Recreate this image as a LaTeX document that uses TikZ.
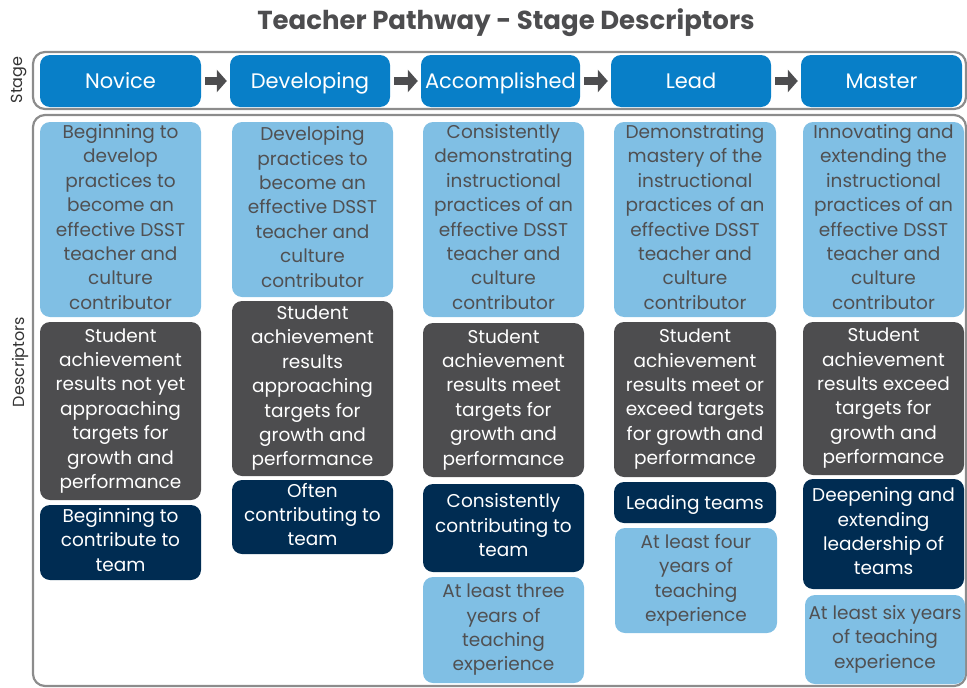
\documentclass[tikz,border=0pt]{standalone}
\usepackage{fontspec}
\setmainfont{Poppins}
\usetikzlibrary{arrows.meta}
\definecolor{stageblue}{RGB}{8,127,200}
\definecolor{lightbl}{RGB}{128,191,228}
\definecolor{darkbox}{RGB}{77,77,79}
\definecolor{navybox}{RGB}{0,44,82}
\definecolor{txtgray}{RGB}{80,80,82}
\definecolor{framegray}{RGB}{140,140,140}
\newcommand\tpbox[7]{%
  \pgfmathsetmacro\tpw{#5-#3}\pgfmathsetmacro\tph{#6-#4}%
  \pgfmathsetmacro\tpx{(#3+#5)/2}\pgfmathsetmacro\tpy{(#4+#6)/2}%
  \node[#2, minimum width=\tpw pt, minimum height=\tph pt] (#1) at (\tpx,\tpy) {#7};}
\newcommand\tpstrut{\rule[-5.3pt]{0pt}{24.4pt}}
\newcommand\tpsstrut{\rule[-5.8pt]{0pt}{26pt}}
\begin{document}
\begin{tikzpicture}[x=1pt,y=-1pt,
  base/.style={rounded corners=10pt, inner sep=0pt, align=center, font=\fontsize{18.5}{24.4}\selectfont,
    execute at begin node=\tpstrut, execute at end node=\tpstrut},
  lb/.style={base, fill=lightbl, text=txtgray},
  dg/.style={base, fill=darkbox, text=white},
  nv/.style={base, fill=navybox, text=white},
  stagebox/.style={rounded corners=10pt, inner sep=0pt, fill=stageblue, text=white, font=\fontsize{21}{26}\selectfont,
    execute at begin node=\tpsstrut},
  framebox/.style={rounded corners=12pt, draw=framegray, line width=2.2pt},
  sidelabel/.style={rotate=90, text=black!80, font=\fontsize{16}{19}\selectfont},
  barrow/.style={draw=darkbox, line width=8pt, -{Triangle[length=10pt,width=22pt]}, shorten <=4pt, shorten >=3pt}
]
\useasboundingbox (0,0) rectangle (967,688);
% title
\node[text=darkbox, font=\fontsize{26}{30}\selectfont\bfseries] (title) at (506,23) {Teacher Pathway - Stage Descriptors};
% frames
\tpbox{stageframe}{framebox}{33}{52}{966}{109}{}
\tpbox{descframe}{framebox}{33}{115}{966}{686}{}
\node[sidelabel] (stagelbl) at (19,80) {Stage};
\node[sidelabel] (desclbl) at (20,362) {Descriptors};
% stages
\tpbox{s1}{stagebox}{40}{55}{201}{107}{Novice}
\tpbox{s2}{stagebox}{230}{55}{390}{107}{Developing}
\tpbox{s3}{stagebox}{421}{55}{580}{107}{Accomplished}
\tpbox{s4}{stagebox}{611}{55}{771}{107}{Lead}
\tpbox{s5}{stagebox}{801}{55}{962}{107}{Master}
\draw[barrow] (s1) -- (s2);
\draw[barrow] (s2) -- (s3);
\draw[barrow] (s3) -- (s4);
\draw[barrow] (s4) -- (s5);
% column 1
\tpbox{a1}{lb}{40}{122}{201}{317}{Beginning to\\develop\\practices to\\become an\\effective DSST\\teacher and\\culture\\contributor}
\tpbox{b1}{dg}{40}{322}{201}{500}{Student\\achievement\\results not yet\\approaching\\targets for\\growth and\\performance}
\tpbox{c1}{nv}{40}{505}{201}{580}{Beginning to\\contribute to\\team}
% column 2
\tpbox{a2}{lb}{232}{122}{393}{297}{Developing\\practices to\\become an\\effective DSST\\teacher and\\culture\\contributor}
\tpbox{b2}{dg}{232}{301}{393}{476}{Student\\achievement\\results\\approaching\\targets for\\growth and\\performance}
\tpbox{c2}{nv}{232}{480}{393}{554}{Often\\contributing to\\team}
% column 3
\tpbox{a3}{lb}{423}{122}{584}{317}{Consistently\\demonstrating\\instructional\\practices of an\\effective DSST\\teacher and\\culture\\contributor}
\tpbox{b3}{dg}{423}{323}{584}{477}{Student\\achievement\\results meet\\targets for\\growth and\\performance}
\tpbox{c3}{nv}{423}{484}{584}{572}{Consistently\\contributing to\\team}
\tpbox{d3}{lb}{423}{577}{584}{683}{At least three\\years of\\teaching\\experience}
% column 4
\tpbox{a4}{lb}{614}{122}{776}{317}{Demonstrating\\mastery of the\\instructional\\practices of an\\effective DSST\\teacher and\\culture\\contributor}
\tpbox{b4}{dg}{614}{322}{776}{477}{Student\\achievement\\results meet or\\exceed targets\\for growth and\\performance}
\tpbox{c4}{nv}{614}{482}{776}{523}{Leading teams}
\tpbox{d4}{lb}{615}{528}{777}{633}{At least four\\years of\\teaching\\experience}
% column 5
\tpbox{a5}{lb}{803}{122}{964}{317}{Innovating and\\extending the\\instructional\\practices of an\\effective DSST\\teacher and\\culture\\contributor}
\tpbox{b5}{dg}{803}{322}{964}{475}{Student\\achievement\\results exceed\\targets for\\growth and\\performance}
\tpbox{c5}{nv}{803}{479}{964}{589}{Deepening and\\extending\\leadership of\\teams}
\tpbox{d5}{lb}{805}{595}{965}{684}{At least six years\\of teaching\\experience}
\end{tikzpicture}
\end{document}
